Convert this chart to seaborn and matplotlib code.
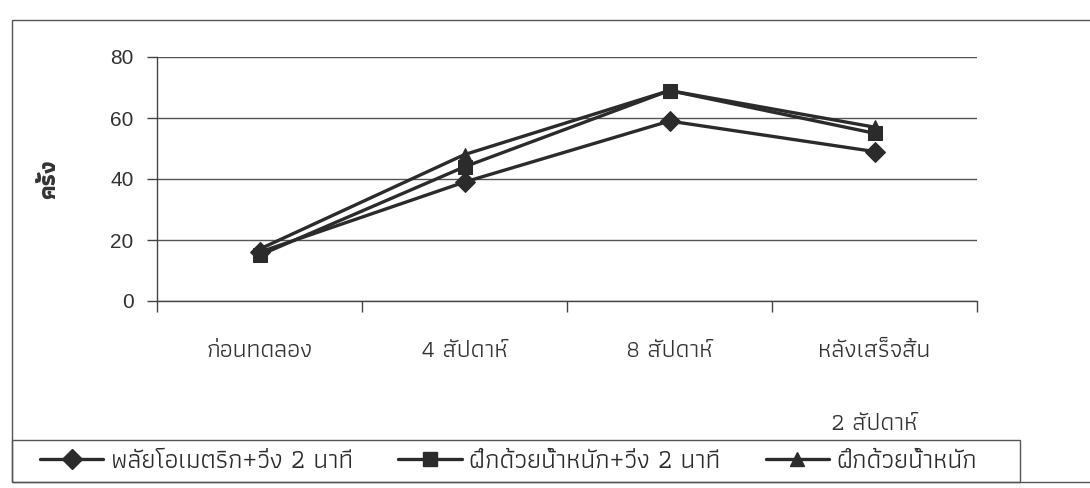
import matplotlib
matplotlib.use("Agg")
import matplotlib.pyplot as plt
from matplotlib import font_manager
from matplotlib.ft2font import FT2Font
from matplotlib.lines import Line2D
from matplotlib.patches import Rectangle
import pandas as pd
import seaborn as sns

# ---- data -------------------------------------------------------------
stages = ["ก่อนทดลอง", "4 สัปดาห์", "8 สัปดาห์", "หลังเสร็จสิ้น\n2 สัปดาห์"]
series_names = [
    "พลัยโอเมตริก+วิ่ง 2 นาที",
    "ฝึกด้วยน้ำหนัก+วิ่ง 2 นาที",
    "ฝึกด้วยน้ำหนัก",
]
plyo_run = [16, 39, 59, 49]
weight_run = [15, 44, 69, 55]
weight_only = [17, 48, 69, 57]
y_ticks = [0, 20, 40, 60, 80]
y_label = "ครั้ง"


def thai_capable_families():
    """Installed families that contain Thai glyphs, narrow loopless faces first."""
    names = []
    for entry in font_manager.fontManager.ttflist:
        try:
            cmap = FT2Font(entry.fname).get_charmap()
        except Exception:
            continue
        if 0x0E01 in cmap and 0x0E49 in cmap and entry.name not in names:
            names.append(entry.name)
    preferred = [n for n in ("Athiti", "Loma") if n in names]
    return preferred + [n for n in names if n not in preferred]


sns.set_theme(style="white")
thai = thai_capable_families()
plt.rcParams["font.family"] = thai[:1] + ["Liberation Sans", "DejaVu Sans"]
num_font = ["Liberation Sans", "DejaVu Sans"]

ink = "#2b2b2b"
text_col = "#333333"
df = pd.DataFrame({
    "stage": stages * 3,
    "group": [series_names[0]] * 4 + [series_names[1]] * 4 + [series_names[2]] * 4,
    "value": plyo_run + weight_run + weight_only,
})

fig = plt.figure(figsize=(10.9, 4.88), dpi=100)
ax = fig.add_axes([157 / 1090, 1 - 301 / 488, (977 - 157) / 1090, (301 - 57) / 488])

sns.lineplot(
    data=df, x="stage", y="value", hue="group", style="group",
    hue_order=series_names, style_order=series_names,
    palette=[ink] * 3, markers=["D", "s", "^"], dashes=False,
    linewidth=2.4, markersize=10, markeredgecolor=ink,
    sort=False, legend=False, ax=ax,
)

# axes frame: left spine and bottom spine only
for side in ("top", "right"):
    ax.spines[side].set_visible(False)
for side in ("left", "bottom"):
    ax.spines[side].set_color("#444444")
    ax.spines[side].set_linewidth(1.0)

ax.set_ylim(0, 80)
ax.set_yticks(y_ticks)
ax.set_yticklabels([str(v) for v in y_ticks], fontsize=15, color=text_col,
                   family=num_font)
ax.tick_params(axis="y", direction="out", length=7, width=1.0, color="#444444",
               pad=10, left=True)
ax.yaxis.grid(True, color="#555555", linewidth=1.0)
ax.set_axisbelow(True)

# category boundaries as tick marks, names centred between them
n = len(stages)
ax.set_xlim(-0.5, n - 0.5)
ax.set_xticks([i - 0.5 for i in range(n + 1)])
ax.set_xticklabels([""] * (n + 1))
ax.set_xticks(range(n), minor=True)
ax.set_xticklabels(stages, minor=True, fontsize=18, color=text_col,
                   linespacing=4.0)
ax.tick_params(axis="x", which="major", direction="out", length=8, width=1.0,
               color="#444444", bottom=True)
ax.tick_params(axis="x", which="minor", length=0, pad=28, bottom=True)
ax.xaxis.grid(False)

ax.set_xlabel("")
ax.set_ylabel(y_label, fontsize=17, fontweight="bold", color=text_col,
              labelpad=36)

# chart border
fig.patches.append(Rectangle((12 / 1090, 6 / 488), 1.2, (468 - 6) / 488,
                             transform=fig.transFigure, fill=False,
                             edgecolor="#555555", linewidth=1.0,
                             clip_on=False))
# legend box
fig.patches.append(Rectangle((12 / 1090, 6 / 488), (1020 - 12) / 1090, 42 / 488,
                             transform=fig.transFigure, fill=False,
                             edgecolor="#555555", linewidth=1.0))

# legend entries along the bottom
handles = [
    Line2D([], [], color=ink, linewidth=2.4, marker=m, markersize=10,
           markeredgecolor=ink)
    for m in ("D", "s", "^")
]
leg = fig.legend(
    handles, series_names, loc="center left", ncol=3,
    bbox_to_anchor=(40 / 1090, 27 / 488),
    frameon=False, fontsize=19, handlelength=2.4,
    handletextpad=0.3, columnspacing=1.7, borderaxespad=0, borderpad=0,
)
for t in leg.get_texts():
    t.set_color("#2b2b2b")

fig.savefig("out.png", dpi=100, facecolor="white")
